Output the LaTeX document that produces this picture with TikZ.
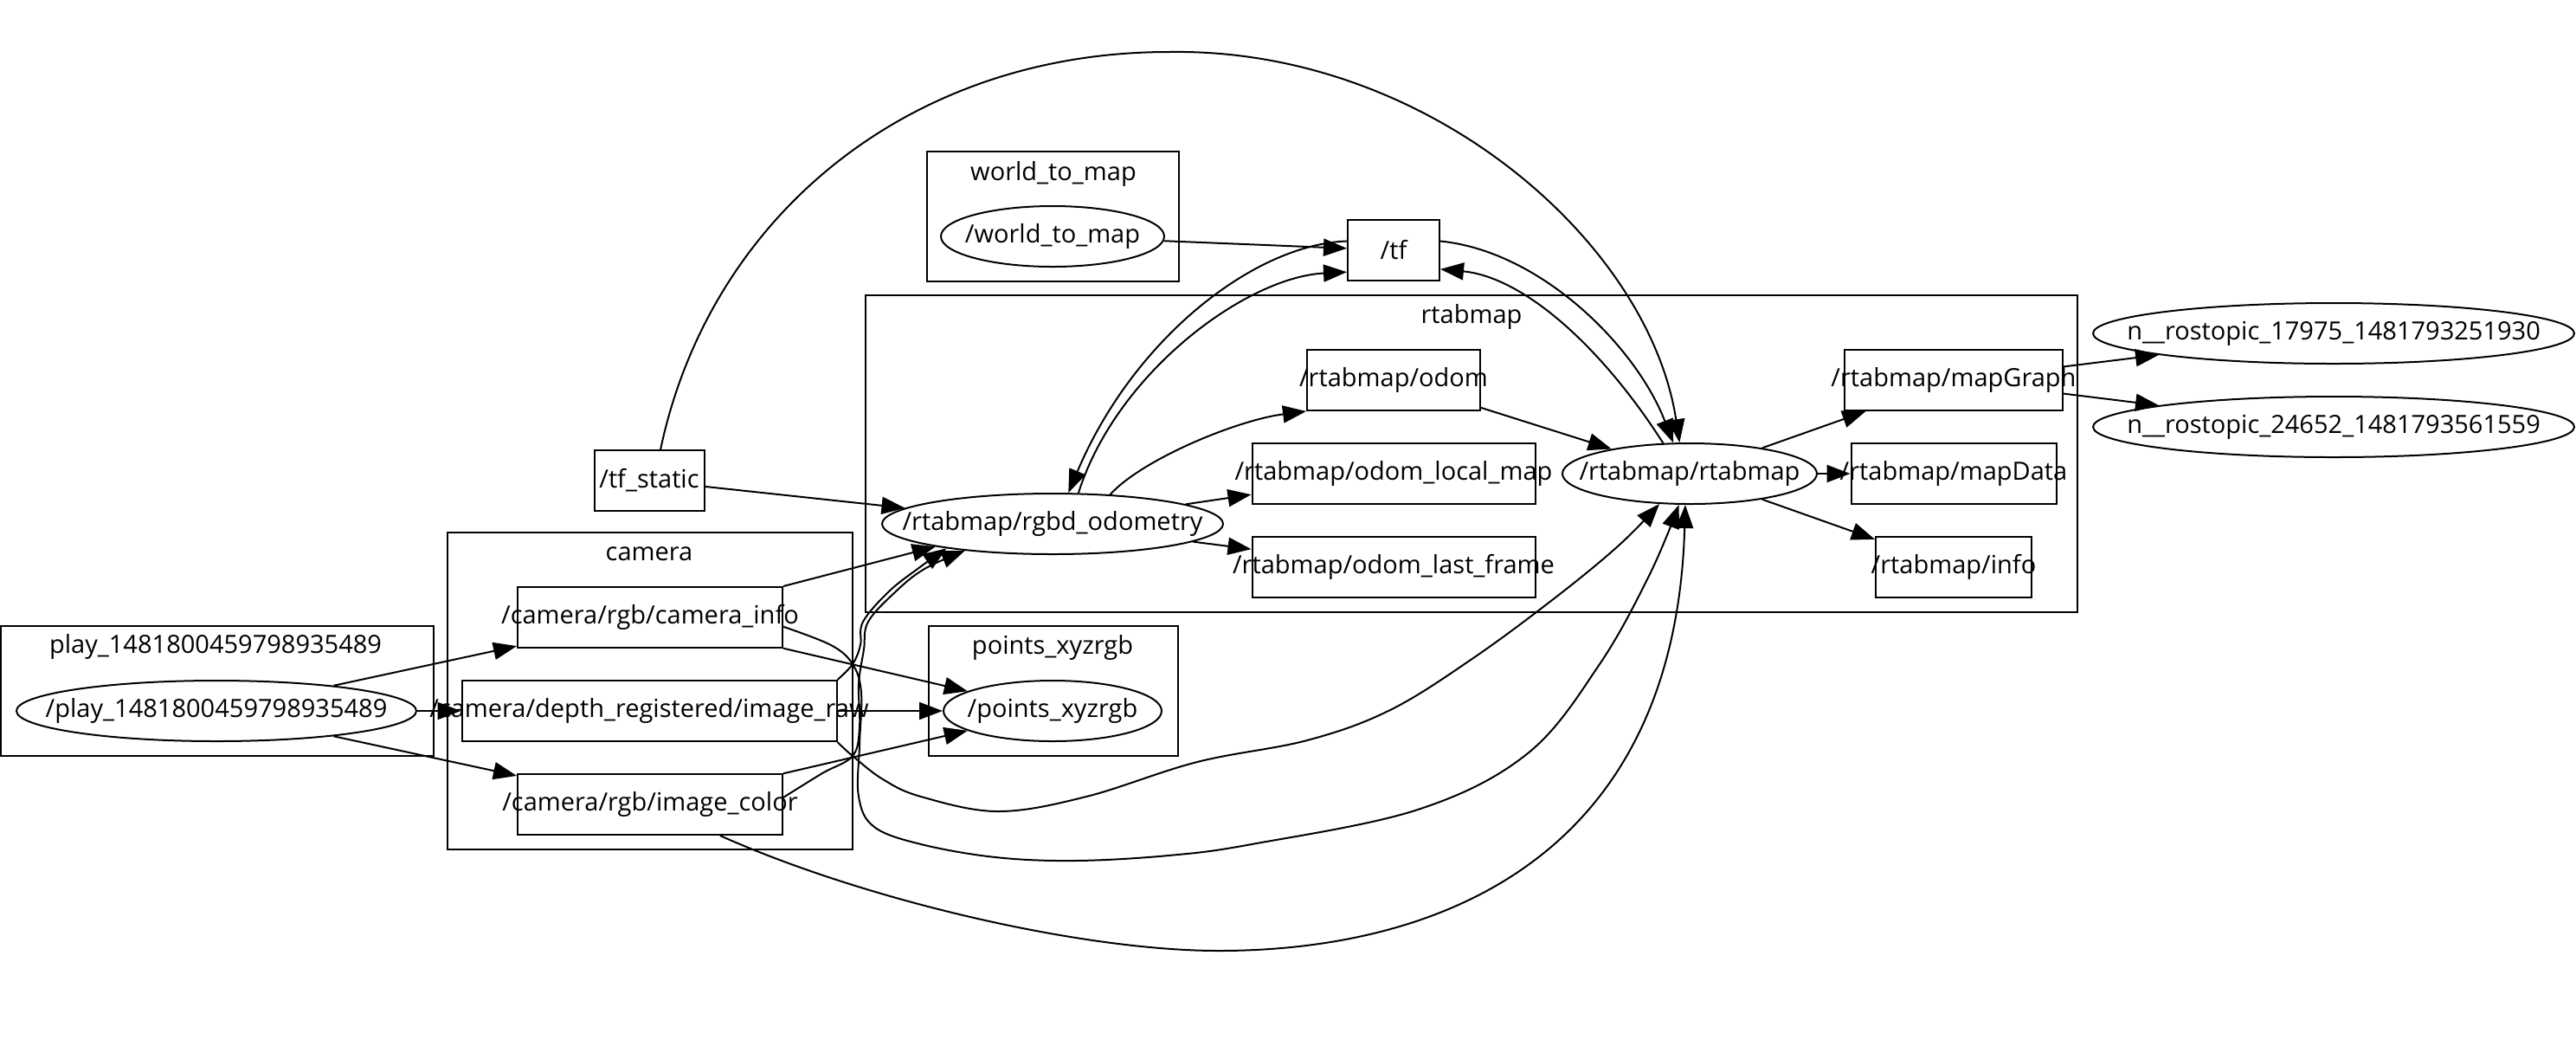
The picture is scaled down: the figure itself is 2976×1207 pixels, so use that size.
\documentclass[tikz,border=0pt]{standalone}
\usepackage{fontspec}
\setmainfont{Open Sans}
\usetikzlibrary{shapes.geometric,arrows.meta}
\newcommand{\mytxt}[1]{\makebox[0pt]{#1}}
\tikzset{
  topic/.style={draw, rectangle, inner sep=0pt, line width=1pt, minimum height=35pt},
  rosnode/.style={draw, ellipse, inner sep=0pt, line width=1pt, minimum height=35pt},
  clus/.style={draw, line width=1pt},
  clabel/.style={inner sep=0pt},
  edge/.style={-{Triangle[length=13.5pt,width=10pt]}, line width=1pt},
  smoothed/.style={smooth, tension=0.6}
}
\begin{document}
\begin{tikzpicture}[x=0.5pt, y=-0.5pt, font=\fontsize{14.5}{17}\selectfont]
\fill[white] (0,0) rectangle (2976,1207);
\useasboundingbox (0,0) rectangle (2976,1207);

% clusters
\draw[clus] (1,723) rectangle (501,873);
\node[clabel] (lplay) at (249,747) {play\_1481800459798935489};
\draw[clus] (517,615) rectangle (985,981);
\node[clabel] (lcamera) at (750,640) {camera};
\draw[clus] (1071,175) rectangle (1362,325);
\node[clabel] (lw2m) at (1217,201) {world\_to\_map};
\draw[clus] (1000,341) rectangle (2400,707);
\node[clabel] (lrtab) at (1700,366) {rtabmap};
\draw[clus] (1073,723) rectangle (1361,873);
\node[clabel] (lpts) at (1216,748) {points\_xyzrgb};

% nodes
\node[rosnode, minimum width=231pt] (play) at (250,821) {\mytxt{/play\_1481800459798935489}};
\node[topic, minimum width=153pt] (caminfo) at (751,713) {\mytxt{/camera/rgb/camera\_info}};
\node[topic, minimum width=216.5pt] (depth) at (750,821) {\mytxt{/camera/depth\_registered/image\_raw}};
\node[topic, minimum width=153pt] (imgcolor) at (751,929) {\mytxt{/camera/rgb/image\_color}};
\node[topic, minimum width=63.5pt] (tfstatic) at (750,555) {\mytxt{/tf\_static}};
\node[rosnode, minimum width=129pt] (w2m) at (1216,273) {\mytxt{/world\_to\_map}};
\node[topic, minimum width=53pt] (tf) at (1610,289) {\mytxt{/tf}};
\node[topic, minimum width=100pt] (odom) at (1610,439) {\mytxt{/rtabmap/odom}};
\node[topic, minimum width=163.5pt] (localmap) at (1610,547) {\mytxt{/rtabmap/odom\_local\_map}};
\node[topic, minimum width=163.5pt] (lastframe) at (1610,655) {\mytxt{/rtabmap/odom\_last\_frame}};
\node[rosnode, minimum width=197pt] (rgbd) at (1216,605) {\mytxt{/rtabmap/rgbd\_odometry}};
\node[rosnode, minimum width=126pt] (points) at (1216,821) {\mytxt{/points\_xyzrgb}};
\node[rosnode, minimum width=147pt] (rtab) at (1952,547) {\mytxt{/rtabmap/rtabmap}};
\node[topic, minimum width=126pt] (mapgraph) at (2257,439) {\mytxt{/rtabmap/mapGraph}};
\node[topic, minimum width=118.5pt] (mapdata) at (2257,547) {\mytxt{/rtabmap/mapData}};
\node[topic, minimum width=90pt] (info) at (2257,655) {\mytxt{/rtabmap/info}};
\node[rosnode, minimum width=278pt] (n1) at (2696,385) {\mytxt{n\_\_rostopic\_17975\_1481793251930}};
\node[rosnode, minimum width=278pt] (n2) at (2696,493) {\mytxt{n\_\_rostopic\_24652\_1481793561559}};

% straight edges
\draw[edge] (play) -- (caminfo);
\draw[edge] (play) -- (depth);
\draw[edge] (play) -- (imgcolor);
\draw[edge] (caminfo.north east) -- (rgbd.191);
\draw[edge] (caminfo) -- (points);
\draw[edge] (depth) -- (points);
\draw[edge] (imgcolor) -- (points);
\draw[edge] (tfstatic) -- (rgbd);
\draw[edge] (w2m) -- (tf);
\draw[edge] (odom) -- (rtab);
\draw[edge] (rgbd) -- (localmap);
\draw[edge] (rgbd) -- (lastframe);
\draw[edge] (rtab) -- (mapgraph);
\draw[edge] (rtab) -- (mapdata);
\draw[edge] (rtab) -- (info);
\draw[edge] (mapgraph) -- (n1);
\draw[edge] (mapgraph) -- (n2);

% curved edges
\draw[edge] (rgbd.27) .. controls (1320,530) and (1430,485) .. (odom.south west);
\draw[edge] (tf.169) .. controls (1450,282) and (1310,390) .. (rgbd.63);
\draw[edge] (rgbd.50) .. controls (1290,430) and (1440,320) .. (tf.205);
\draw[edge] (tf.11) .. controls (1780,290) and (1890,400) .. (rtab.118);
\draw[edge] (rtab.131) .. controls (1850,400) and (1760,320) .. (tf.-22);
\draw[edge] (tfstatic.70) .. controls (820,250) and (1050,60) .. (1350,60)
            .. controls (1650,55) and (1905,280) .. (rtab.108);

% bundle to rgbd_odometry
\draw[edge] plot[smoothed] coordinates {(depth.north east) (985,767) (994,745) (997,718) (1027,683) (1060,657) (rgbd.193)};
\draw[edge] plot[smoothed] coordinates {(imgcolor.3) (950,893) (985,873) (993,840) (992,790) (998,750) (1003,718) (1035,683) (1068,657) (rgbd.197)};

% long curves to rtabmap/rtabmap
\draw[edge] plot[smoothed] coordinates {(depth.south east) (985,873) (1020,900) (1064,920) (1153,937) (1255,920) (1383,880) (1510,855) (1606,820) (1702,760) (1797,690) (1870,630) (rtab.225)};
\draw[edge] plot[smoothed] coordinates {(caminfo.-4) (960,745) (985,767) (995,800) (993,860) (992,920) (1010,955) (1064,975) (1150,990) (1242,994) (1350,988) (1446,975) (1638,935) (1765,870) (1848,767) (1906,663) (rtab.251)};
\draw[edge] (imgcolor.-24) .. controls (1000,1040) and (1250,1098) .. (1408,1098)
            .. controls (1650,1098) and (1935,1000) .. (rtab.262);
\end{tikzpicture}
\end{document}
